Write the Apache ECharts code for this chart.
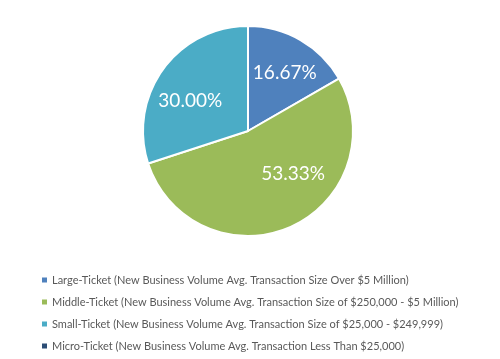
<!DOCTYPE html>
<html><head><meta charset="utf-8">
<script src="https://cdn.jsdelivr.net/npm/echarts@6/dist/echarts.min.js"></script>
<style>html,body{margin:0;padding:0;background:#fff}#c{width:500px;height:359px}</style>
</head><body><div id="c"></div>
<script>
var categories = [
  'Large-Ticket (New Business Volume Avg. Transaction Size Over $5 Million)',
  'Middle-Ticket (New Business Volume Avg. Transaction Size of $250,000 - $5 Million)',
  'Small-Ticket (New Business Volume Avg. Transaction Size of $25,000 - $249,999)',
  'Micro-Ticket (New Business Volume Avg. Transaction Less Than $25,000)'
];
var values = [16.67, 53.33, 30.00, 0];
var colors = ['#4F81BD', '#9BBB59', '#4BACC6', '#2C4D75'];

var CX = 248, CY = 131, R = 105;
// label placement (Excel "best fit"), as fractions of the radius from the centre
var labelPos = [[0.35, -0.55], [0.43, 0.41], [-0.55, -0.29], [0, 0]];

var chart = echarts.init(document.getElementById('c'));
chart.setOption({
  animation: false,
  color: colors,
  legend: {
    orient: 'vertical', left: 40, top: 273, padding: 0,
    itemWidth: 7, itemHeight: 7, itemGap: 8, icon: 'rect',
    textStyle: { fontFamily: 'Lato', fontSize: 11, color: '#595959', lineHeight: 14, padding: [0, 0, 0, -1] },
    data: categories
  },
  series: [{
    type: 'pie',
    center: [CX, CY], radius: R,
    startAngle: 90, clockwise: true,
    avoidLabelOverlap: false,
    stillShowZeroSum: true,
    itemStyle: { borderColor: '#fff', borderWidth: 2 },
    label: {
      show: true, position: 'inside', color: '#fff',
      fontFamily: 'Lato', fontSize: 19,
      formatter: function (p) { return p.value ? p.value.toFixed(2) + '%' : ''; }
    },
    labelLayout: function (p) {
      var lr = p.labelRect, o = labelPos[p.dataIndex];
      return {
        dx: CX + o[0] * R - (lr.x + lr.width / 2),
        dy: CY + o[1] * R - (lr.y + lr.height / 2)
      };
    },
    labelLine: { show: false },
    emphasis: { disabled: true },
    data: categories.map(function (n, i) { return { name: n, value: values[i] }; })
  }]
});
</script></body></html>
